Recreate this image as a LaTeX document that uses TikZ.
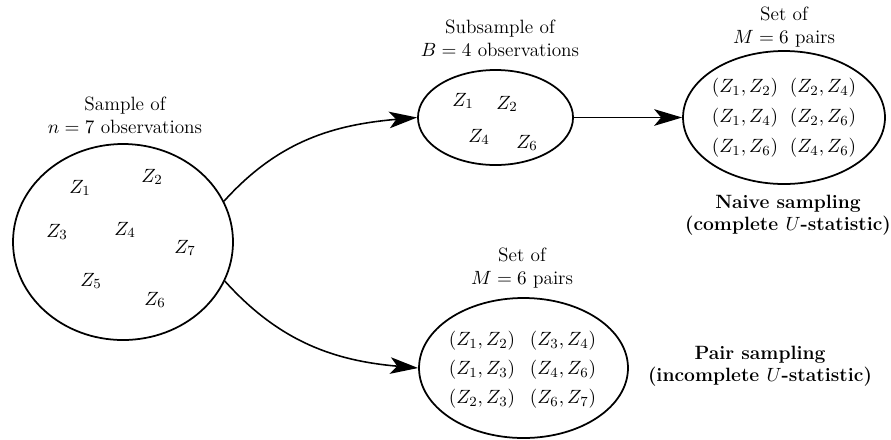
\documentclass[tikz,border=0pt]{standalone}
\usetikzlibrary{shapes.geometric,arrows.meta}
\begin{document}
\begin{tikzpicture}[x=0.5714pt,y=-0.5714pt,
  blob/.style={draw,line width=1pt,ellipse,inner sep=0pt},
  lbl/.style={inner sep=0pt,align=center,font=\fontsize{11}{13.2}\selectfont},
  arr/.style={line width=0.9pt,-{Stealth[length=16pt,width=9.5pt,inset=4pt]}},
  hd/.style={inner sep=0pt,align=center,font=\fontsize{11}{12.6}\selectfont\bfseries}]
\useasboundingbox (0,0) rectangle (891,439);
% ellipses
\node[blob,minimum width=125.7pt,minimum height=112pt] (big) at (123,242) {};
\node[blob,minimum width=88.6pt,minimum height=54.3pt] (sub) at (495.5,117.5) {};
\node[blob,minimum width=115.4pt,minimum height=76pt] (tr) at (784,117.5) {};
\node[blob,minimum width=119.4pt,minimum height=80pt] (bt) at (523.5,368) {};
% titles
\node[lbl] (t1) at (125,115) {Sample of\\$n=7$ observations};
\node[lbl] (t2) at (500,38) {Subsample of\\$B=4$ observations};
\node[lbl] (t3) at (784,27) {Set of\\$M=6$ pairs};
\node[lbl] (t4) at (522,268.5) {Set of\\$M=6$ pairs};
\node[hd] (h1) at (788,215) {Naive sampling\\(complete $U$-statistic)};
\node[hd] (h2) at (760,366) {Pair sampling\\(incomplete $U$-statistic)};
% sample
\node[lbl] (z1) at (80,188) {$Z_1$};
\node[lbl] (z2) at (152,177) {$Z_2$};
\node[lbl] (z3) at (57,232) {$Z_3$};
\node[lbl] (z4) at (125,230) {$Z_4$};
\node[lbl] (z7) at (185,248) {$Z_7$};
\node[lbl] (z5) at (91,281) {$Z_5$};
\node[lbl] (z6) at (155,300) {$Z_6$};
% subsample
\node[lbl] (s1) at (463,101) {$Z_1$};
\node[lbl] (s2) at (507,104) {$Z_2$};
\node[lbl] (s4) at (479,137) {$Z_4$};
\node[lbl] (s6) at (527,143) {$Z_6$};
% complete pairs
\node[lbl] (p11) at (745,88) {$(Z_1,Z_2)$};
\node[lbl] (p12) at (823,88) {$(Z_2,Z_4)$};
\node[lbl] (p21) at (745,118) {$(Z_1,Z_4)$};
\node[lbl] (p22) at (823,118) {$(Z_2,Z_6)$};
\node[lbl] (p31) at (745,148) {$(Z_1,Z_6)$};
\node[lbl] (p32) at (823,148) {$(Z_4,Z_6)$};
% incomplete pairs
\node[lbl] (q11) at (482,341) {$(Z_1,Z_2)$};
\node[lbl] (q12) at (563,341) {$(Z_3,Z_4)$};
\node[lbl] (q21) at (482,370) {$(Z_1,Z_3)$};
\node[lbl] (q22) at (563,370) {$(Z_4,Z_6)$};
\node[lbl] (q31) at (482,399) {$(Z_2,Z_3)$};
\node[lbl] (q32) at (563,399) {$(Z_6,Z_7)$};
% arrows
\draw[arr] (big.22) to[out=48,in=185] (sub.west);
\draw[arr] (big.-21) to[out=-48,in=175] (bt.west);
\draw[arr] (sub.east) -- (tr.west);
\end{tikzpicture}
\end{document}
